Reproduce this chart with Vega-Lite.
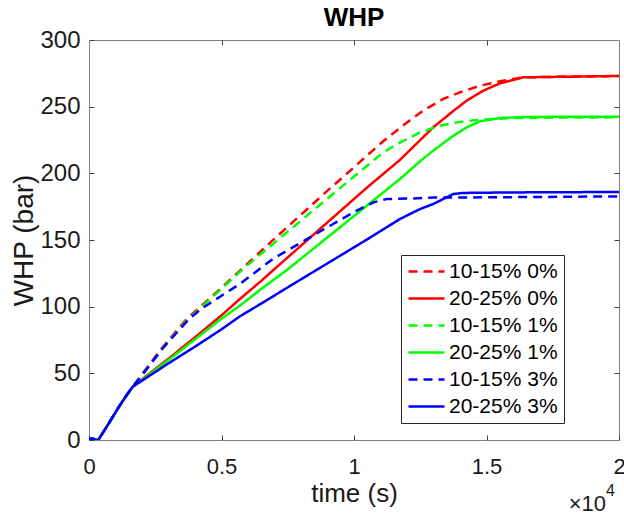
{
"$schema": "https://vega.github.io/schema/vega-lite/v6.json",
"width": 530, "height": 400,
"autosize": {"type": "none"},
"padding": {"left": 89, "top": 40, "right": 5, "bottom": 74},
"background": "white",
"title": {"text": "WHP", "fontSize": 26, "font": "Liberation Sans", "fontWeight": "bold", "color": "#000000", "baseline": "alphabetic", "offset": 6, "dy": 30, "anchor": "middle"},
"config": {
  "view": {"stroke": "#808080", "strokeWidth": 1},
  "font": "Liberation Sans",
  "legend": {"orient": "none", "legendX": 312, "legendY": 215, "symbolType": "M-1,0H3", "symbolSize": 324, "symbolStrokeWidth": 2.5, "labelFontSize": 21, "labelFont": "Liberation Sans", "labelColor": "#000000", "strokeColor": "#262626", "fillColor": "white", "padding": 6, "rowPadding": 5, "labelOffset": 21, "labelLimit": 400}
},
"datasets": {
"curves": [
{"s":"10-15% 0%","t":0,"v":1},{"s":"10-15% 0%","t":150,"v":1},{"s":"10-15% 0%","t":250,"v":0},{"s":"10-15% 0%","t":350,"v":0},{"s":"10-15% 0%","t":700,"v":11},{"s":"10-15% 0%","t":1100,"v":24},{"s":"10-15% 0%","t":1400,"v":33},{"s":"10-15% 0%","t":1650,"v":40},{"s":"10-15% 0%","t":1910,"v":47},{"s":"10-15% 0%","t":2670,"v":67},{"s":"10-15% 0%","t":3680,"v":90.7},{"s":"10-15% 0%","t":4810,"v":110.7},{"s":"10-15% 0%","t":5940,"v":131.5},{"s":"10-15% 0%","t":7000,"v":151},{"s":"10-15% 0%","t":8000,"v":169},{"s":"10-15% 0%","t":9000,"v":187},{"s":"10-15% 0%","t":10000,"v":204.5},{"s":"10-15% 0%","t":10470,"v":213},{"s":"10-15% 0%","t":11100,"v":224},{"s":"10-15% 0%","t":11990,"v":238},{"s":"10-15% 0%","t":12610,"v":247},{"s":"10-15% 0%","t":13370,"v":255.8},{"s":"10-15% 0%","t":14000,"v":260.7},{"s":"10-15% 0%","t":14750,"v":265.7},{"s":"10-15% 0%","t":15500,"v":269},{"s":"10-15% 0%","t":16400,"v":272},{"s":"10-15% 0%","t":17400,"v":272.3},{"s":"10-15% 0%","t":20000,"v":273},
{"s":"20-25% 0%","t":0,"v":1},{"s":"20-25% 0%","t":150,"v":1},{"s":"20-25% 0%","t":250,"v":0},{"s":"20-25% 0%","t":350,"v":0},{"s":"20-25% 0%","t":700,"v":11},{"s":"20-25% 0%","t":1100,"v":24},{"s":"20-25% 0%","t":1400,"v":33},{"s":"20-25% 0%","t":1650,"v":40},{"s":"20-25% 0%","t":2000,"v":45.5},{"s":"20-25% 0%","t":3000,"v":61},{"s":"20-25% 0%","t":4000,"v":77},{"s":"20-25% 0%","t":5000,"v":93.5},{"s":"20-25% 0%","t":5690,"v":105.7},{"s":"20-25% 0%","t":6450,"v":118.5},{"s":"20-25% 0%","t":7500,"v":137},{"s":"20-25% 0%","t":8500,"v":154.5},{"s":"20-25% 0%","t":9500,"v":172},{"s":"20-25% 0%","t":10500,"v":189.5},{"s":"20-25% 0%","t":11730,"v":210},{"s":"20-25% 0%","t":12990,"v":234.5},{"s":"20-25% 0%","t":13700,"v":246},{"s":"20-25% 0%","t":14250,"v":254.5},{"s":"20-25% 0%","t":14880,"v":262},{"s":"20-25% 0%","t":15510,"v":267.5},{"s":"20-25% 0%","t":16390,"v":272},{"s":"20-25% 0%","t":17400,"v":272.3},{"s":"20-25% 0%","t":20000,"v":273},
{"s":"10-15% 1%","t":0,"v":1},{"s":"10-15% 1%","t":150,"v":1},{"s":"10-15% 1%","t":250,"v":0},{"s":"10-15% 1%","t":350,"v":0},{"s":"10-15% 1%","t":700,"v":11},{"s":"10-15% 1%","t":1100,"v":24},{"s":"10-15% 1%","t":1400,"v":33},{"s":"10-15% 1%","t":1650,"v":40},{"s":"10-15% 1%","t":1910,"v":46.5},{"s":"10-15% 1%","t":2670,"v":66},{"s":"10-15% 1%","t":3680,"v":89.5},{"s":"10-15% 1%","t":4810,"v":110},{"s":"10-15% 1%","t":5940,"v":130.5},{"s":"10-15% 1%","t":7000,"v":148},{"s":"10-15% 1%","t":8000,"v":164.6},{"s":"10-15% 1%","t":9000,"v":181},{"s":"10-15% 1%","t":10000,"v":197.6},{"s":"10-15% 1%","t":11100,"v":215.7},{"s":"10-15% 1%","t":11730,"v":223},{"s":"10-15% 1%","t":12490,"v":230.7},{"s":"10-15% 1%","t":13240,"v":235.7},{"s":"10-15% 1%","t":13870,"v":238.2},{"s":"10-15% 1%","t":14630,"v":240},{"s":"10-15% 1%","t":16000,"v":241.5},{"s":"10-15% 1%","t":18000,"v":241.8},{"s":"10-15% 1%","t":20000,"v":242},
{"s":"20-25% 1%","t":0,"v":1},{"s":"20-25% 1%","t":150,"v":1},{"s":"20-25% 1%","t":250,"v":0},{"s":"20-25% 1%","t":350,"v":0},{"s":"20-25% 1%","t":700,"v":11},{"s":"20-25% 1%","t":1100,"v":24},{"s":"20-25% 1%","t":1400,"v":33},{"s":"20-25% 1%","t":1650,"v":40},{"s":"20-25% 1%","t":2000,"v":45},{"s":"20-25% 1%","t":3000,"v":60},{"s":"20-25% 1%","t":4000,"v":75.5},{"s":"20-25% 1%","t":5000,"v":91},{"s":"20-25% 1%","t":5690,"v":100.7},{"s":"20-25% 1%","t":6450,"v":112.5},{"s":"20-25% 1%","t":7500,"v":128},{"s":"20-25% 1%","t":8500,"v":144},{"s":"20-25% 1%","t":9500,"v":160},{"s":"20-25% 1%","t":10500,"v":176},{"s":"20-25% 1%","t":11730,"v":195.7},{"s":"20-25% 1%","t":12490,"v":209},{"s":"20-25% 1%","t":12990,"v":217},{"s":"20-25% 1%","t":13700,"v":227.5},{"s":"20-25% 1%","t":14250,"v":234.5},{"s":"20-25% 1%","t":14750,"v":239},{"s":"20-25% 1%","t":15510,"v":241.5},{"s":"20-25% 1%","t":16500,"v":242.3},{"s":"20-25% 1%","t":20000,"v":242.5},
{"s":"10-15% 3%","t":0,"v":1},{"s":"10-15% 3%","t":150,"v":1},{"s":"10-15% 3%","t":250,"v":0},{"s":"10-15% 3%","t":350,"v":0},{"s":"10-15% 3%","t":700,"v":11},{"s":"10-15% 3%","t":1100,"v":24},{"s":"10-15% 3%","t":1400,"v":33},{"s":"10-15% 3%","t":1650,"v":40},{"s":"10-15% 3%","t":1900,"v":46},{"s":"10-15% 3%","t":2790,"v":69},{"s":"10-15% 3%","t":3740,"v":90},{"s":"10-15% 3%","t":4240,"v":98.5},{"s":"10-15% 3%","t":5000,"v":108.2},{"s":"10-15% 3%","t":5690,"v":117},{"s":"10-15% 3%","t":6950,"v":136},{"s":"10-15% 3%","t":8080,"v":149},{"s":"10-15% 3%","t":9210,"v":162},{"s":"10-15% 3%","t":10100,"v":172},{"s":"10-15% 3%","t":10730,"v":178.2},{"s":"10-15% 3%","t":11230,"v":180.7},{"s":"10-15% 3%","t":12240,"v":181.2},{"s":"10-15% 3%","t":13000,"v":181.8},{"s":"10-15% 3%","t":15000,"v":182},{"s":"10-15% 3%","t":17000,"v":182.3},{"s":"10-15% 3%","t":20000,"v":182.7},
{"s":"20-25% 3%","t":0,"v":1},{"s":"20-25% 3%","t":150,"v":1},{"s":"20-25% 3%","t":250,"v":0},{"s":"20-25% 3%","t":350,"v":0},{"s":"20-25% 3%","t":700,"v":11},{"s":"20-25% 3%","t":1100,"v":24},{"s":"20-25% 3%","t":1400,"v":33},{"s":"20-25% 3%","t":1650,"v":40},{"s":"20-25% 3%","t":2000,"v":44.5},{"s":"20-25% 3%","t":3000,"v":57.5},{"s":"20-25% 3%","t":4000,"v":70},{"s":"20-25% 3%","t":5000,"v":83},{"s":"20-25% 3%","t":5690,"v":92.7},{"s":"20-25% 3%","t":6640,"v":104},{"s":"20-25% 3%","t":7500,"v":114.5},{"s":"20-25% 3%","t":8500,"v":126.5},{"s":"20-25% 3%","t":9500,"v":138.5},{"s":"20-25% 3%","t":10500,"v":150.5},{"s":"20-25% 3%","t":11730,"v":165.7},{"s":"20-25% 3%","t":12490,"v":173.2},{"s":"20-25% 3%","t":12990,"v":177},{"s":"20-25% 3%","t":13750,"v":184.5},{"s":"20-25% 3%","t":14120,"v":185.3},{"s":"20-25% 3%","t":15000,"v":185.5},{"s":"20-25% 3%","t":17000,"v":185.8},{"s":"20-25% 3%","t":20000,"v":186}
]
},
"layer": [
{
  "data": {"name": "curves"},
  "mark": {"type": "line", "strokeWidth": 2.5, "clip": true},
  "encoding": {
    "x": {"field": "t", "type": "quantitative", "scale": {"domain": [0, 20000], "nice": false},
      "axis": {"orient": "bottom", "values": [0, 5000, 10000, 15000, 20000], "labelExpr": "'' + datum.value / 10000", "title": "time (s)", "titleFontSize": 26, "titleFont": "Liberation Sans", "titleFontWeight": "normal", "titleColor": "#1a1a1a", "titleBaseline": "alphabetic", "titleY": 61, "labelFontSize": 22, "labelFont": "Liberation Sans", "labelColor": "#1a1a1a", "labelBaseline": "alphabetic", "labelPadding": 38, "tickSize": -5, "tickColor": "#404040", "domain": false, "grid": false, "labelFlush": false, "labelOverlap": false}},
    "y": {"field": "v", "type": "quantitative", "scale": {"domain": [0, 300], "nice": false},
      "axis": {"orient": "left", "values": [0, 50, 100, 150, 200, 250, 300], "title": "WHP (bar)", "titleFontSize": 28, "titleFont": "Liberation Sans", "titleFontWeight": "normal", "titleColor": "#1a1a1a", "titleBaseline": "alphabetic", "titleX": -57, "labelFontSize": 24, "labelFont": "Liberation Sans", "labelColor": "#1a1a1a", "labelPadding": 14, "tickSize": -5, "tickColor": "#404040", "domain": false, "grid": false, "labelFlush": false, "labelOverlap": false}},
    "color": {"field": "s", "type": "nominal", "sort": null,
      "scale": {"domain": ["10-15% 0%", "20-25% 0%", "10-15% 1%", "20-25% 1%", "10-15% 3%", "20-25% 3%"], "range": ["#ff0000", "#ff0000", "#00ff00", "#00ff00", "#0000ff", "#0000ff"]},
      "legend": {"title": null}},
    "strokeDash": {"field": "s", "type": "nominal", "sort": null,
      "scale": {"domain": ["10-15% 0%", "20-25% 0%", "10-15% 1%", "20-25% 1%", "10-15% 3%", "20-25% 3%"], "range": [[9, 6], [1, 0], [9, 6], [1, 0], [9, 6], [1, 0]]},
      "legend": {"title": null}}
  }
},
{
  "data": {"values": [{}]},
  "mark": {"type": "text", "align": "right", "baseline": "alphabetic", "fontSize": 22, "font": "Liberation Sans", "color": "#1a1a1a", "dx": -13, "dy": 71},
  "encoding": {
    "x": {"datum": 20000, "type": "quantitative", "axis": {"orient": "top", "values": [5000, 10000, 15000], "labels": false, "domain": false, "grid": false, "tickSize": -5, "tickColor": "#404040", "title": null}},
    "y": {"datum": 0, "type": "quantitative", "axis": {"orient": "right", "values": [50, 100, 150, 200, 250], "labels": false, "domain": false, "grid": false, "tickSize": -5, "tickColor": "#404040", "title": null}},
    "text": {"value": "×10"}
  }
},
{
  "data": {"values": [{}]},
  "mark": {"type": "text", "align": "left", "baseline": "alphabetic", "fontSize": 16, "font": "Liberation Sans", "color": "#1a1a1a", "dx": -13, "dy": 56},
  "encoding": {
    "x": {"datum": 20000, "type": "quantitative", "axis": null},
    "y": {"datum": 0, "type": "quantitative", "axis": null},
    "text": {"value": "4"}
  }
}
],
"resolve": {"axis": {"x": "independent", "y": "independent"}}
}
